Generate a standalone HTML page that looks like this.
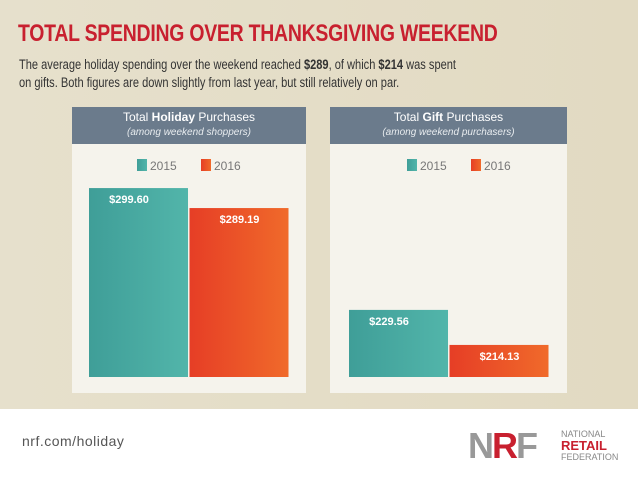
<!DOCTYPE html>
<html><head><meta charset="utf-8"><style>
body{margin:0;width:638px;height:479px;overflow:hidden;font-family:"Liberation Sans",sans-serif;}
#bg{position:absolute;left:0;top:0;width:638px;height:409px;background:linear-gradient(90deg,#e6e0cc,#e2dac2);}
#foot{position:absolute;left:0;top:409px;width:638px;height:70px;background:#fff;}
.t{position:absolute;}
</style></head><body>
<div id="bg"></div>
<div id="foot"></div>
<div class="t" style="left:18px;top:20px;font-size:24px;font-weight:bold;color:#c8202f;letter-spacing:-0.3px;transform:scaleX(0.81);transform-origin:left;white-space:nowrap">TOTAL SPENDING OVER THANKSGIVING WEEKEND</div>
<div class="t" style="left:19px;top:56px;font-size:13.5px;line-height:18px;color:#333;transform:scaleX(0.82);transform-origin:left;white-space:nowrap">The average holiday spending over the weekend reached <b>$289</b>, of which <b>$214</b> was spent<br>on gifts. Both figures are down slightly from last year, but still relatively on par.</div>
<svg id="chart" class="t" style="left:0;top:0" width="638" height="479"></svg>
<div class="t" style="left:22px;top:433px;font-size:14px;color:#555;letter-spacing:0.5px">nrf.com/holiday</div>
<div class="t" style="left:468px;top:428px;font-size:36px;font-weight:bold;color:#999;letter-spacing:-2px;line-height:36px">N<span style="color:#c8202f">R</span>F</div>
<div class="t" style="left:561px;top:429px;font-size:9px;color:#888;line-height:10px">NATIONAL<br><span style="color:#c8202f;font-weight:bold;font-size:13px;line-height:13px">RETAIL</span><br>FEDERATION</div>
<script>
const panelTitles=["Holiday","Gift"];
const panelSubs=["(among weekend shoppers)","(among weekend purchasers)"];
const seriesNames=["2015","2016"];
const holidayValues=[299.60,289.19];
const giftValues=[229.56,214.13];
const valueLabels=[["$299.60","$289.19"],["$229.56","$214.13"]];
const ns="http://www.w3.org/2000/svg";
const svg=document.getElementById('chart');
const defs=document.createElementNS(ns,'defs');
defs.innerHTML='<linearGradient id="g0"><stop offset="0" stop-color="#3f9e98"/><stop offset="1" stop-color="#52b5aa"/></linearGradient><linearGradient id="g1"><stop offset="0" stop-color="#e63e26"/><stop offset="1" stop-color="#f06a2a"/></linearGradient>';
svg.appendChild(defs);
function el(t,a){const e=document.createElementNS(ns,t);for(const k in a)e.setAttribute(k,a[k]);svg.appendChild(e);return e;}
const panels=[{x:72,w:234,vals:holidayValues,base:201.2,k:1.92,leg:137,off:17},{x:330,w:237,vals:giftValues,base:200,k:2.27,leg:407,off:19}];
panels.forEach((p,i)=>{
 const body=el('rect',{x:p.x,y:144,width:p.w,height:249,fill:'#f5f3ec'});
 
 
 const hd=el('rect',{x:p.x,y:107,width:p.w,height:37,fill:'#6b7b8c'});
 
 
 const t=el('text',{x:p.x+p.w/2,y:121,'text-anchor':'middle','font-size':12,fill:'#fff'});
 t.innerHTML='Total <tspan font-weight="bold">'+panelTitles[i]+'</tspan> Purchases';
 
 
 const s=el('text',{x:p.x+p.w/2,y:135,'text-anchor':'middle','font-size':10,'font-style':'italic',fill:'#e8ecef'});
 s.textContent=panelSubs[i];
 
 
 seriesNames.forEach((n,j)=>{
  const lx=p.leg+j*64;
  const sw=el('rect',{x:lx,y:159,width:10,height:12,fill:'url(#g'+j+')'});
  
  
  const lt=el('text',{x:lx+13,y:170,'font-size':12,fill:'#777'});
  lt.textContent=n;
  
  
 });
 const bottom=377;
 p.vals.forEach((v,j)=>{
  const h=(v-p.base)*p.k;
  const bx=p.x+p.off+j*100.5;
  const r=el('rect',{x:bx,y:bottom-h,width:99,height:h,fill:'url(#g'+j+')'});
  
  
  const vt=el('text',{x:bx+(j?50:40),y:bottom-h+15,'text-anchor':'middle','font-size':11,'font-weight':'bold',fill:'#fff'});
  vt.textContent=valueLabels[i][j];
  
  
 });
});
</script>
</body></html>
